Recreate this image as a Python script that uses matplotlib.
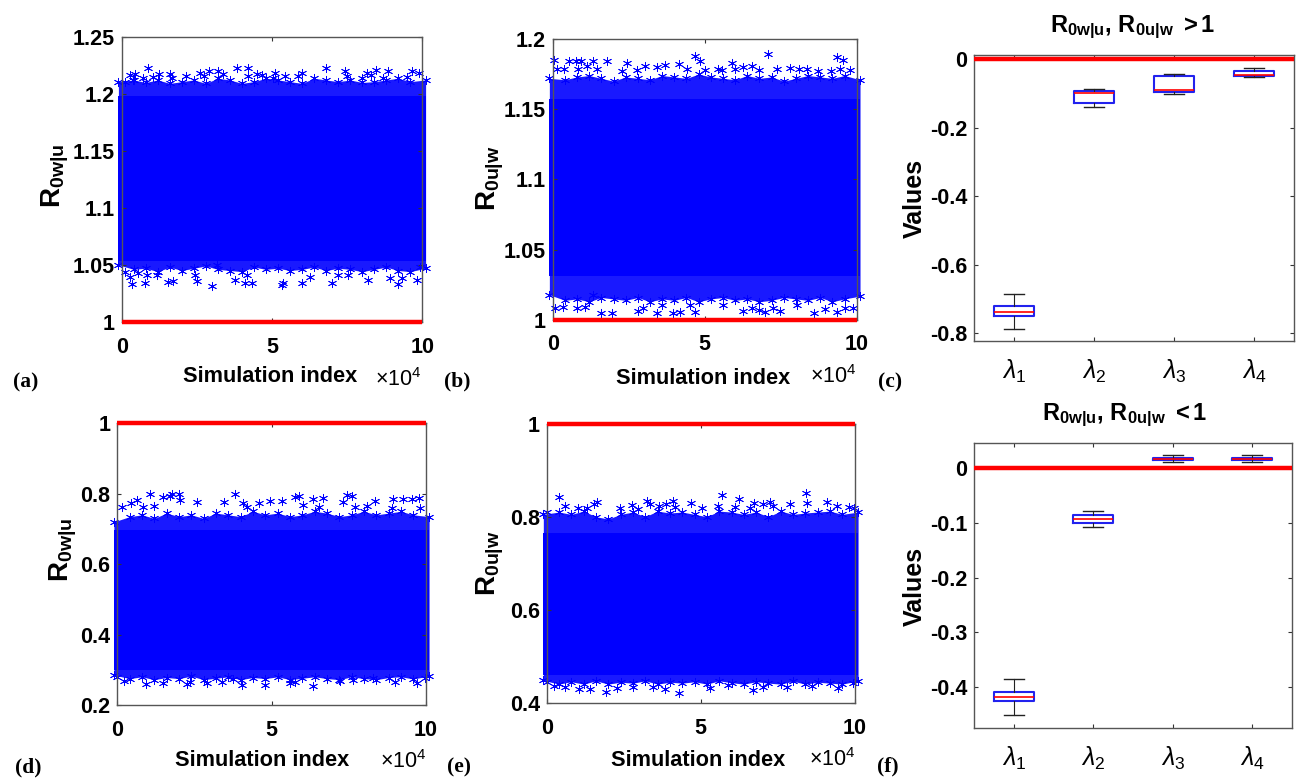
import matplotlib
matplotlib.use('Agg')
import matplotlib.pyplot as plt

plt.rcParams['font.family'] = ['Liberation Sans', 'DejaVu Sans']
plt.rcParams['mathtext.fontset'] = 'custom'
plt.rcParams['mathtext.rm'] = 'Liberation Sans'
plt.rcParams['mathtext.it'] = 'Liberation Sans:italic'
plt.rcParams['mathtext.bf'] = 'Liberation Sans:bold'

W, H = 1304, 779

# simulation index range covered by the dense scatter (x 10^4)
index_range = [-0.11, 10.11]
threshold_r = 1
threshold_lambda = 0

# where the edge of the dense cloud was read, same x for all panels
edge_x = [-.11, .4, .8, 1.2, 1.6, 2.0, 2.4, 2.8, 3.2, 3.6, 4.0, 4.4, 4.8, 5.2, 5.6, 6.0, 6.4, 6.8, 7.2, 7.6, 8.0, 8.4, 8.8, 9.2, 9.6, 10.11]

# panel a: dense core, cloud edges, and the separate stars outside them
a_core = [1.053, 1.198]
a_edge_hi = [1.211, 1.2125, 1.2103, 1.2125, 1.2095, 1.211, 1.2125, 1.2095, 1.214, 1.2125, 1.2095, 1.211, 1.214, 1.2125, 1.211, 1.2095, 1.214, 1.2125, 1.211, 1.2125, 1.2103, 1.211, 1.2125, 1.214, 1.211, 1.2125]
a_edge_lo = [1.05, 1.046, 1.047, 1.044, 1.048, 1.045, 1.047, 1.049, 1.046, 1.045, 1.044, 1.048, 1.046, 1.047, 1.045, 1.046, 1.048, 1.045, 1.047, 1.046, 1.044, 1.046, 1.048, 1.045, 1.044, 1.047]
a_top_x = [.11, .28, .44, .39, .72, .89, 1.05, 1.25, 1.61, 1.66, 2.14, 2.61, 2.74, 2.92, 3.22, 3.38, 3.85, 4.21, 4.21, 4.49, 4.66, 5.10, 5.04, 5.43, 5.99, 5.88, 6.80, 7.43, 7.48, 7.98, 8.15, 8.46, 8.31, 8.87, 8.70, 9.50, 9.65, 9.90]
a_top_y = [1.211, 1.217, 1.218, 1.2125, 1.214, 1.223, 1.215, 1.218, 1.218, 1.214, 1.216, 1.219, 1.216, 1.220, 1.220, 1.218, 1.223, 1.223, 1.216, 1.218, 1.217, 1.219, 1.214, 1.216, 1.219, 1.216, 1.223, 1.220, 1.216, 1.214, 1.219, 1.221, 1.217, 1.2207, 1.214, 1.215, 1.220, 1.219]
a_bot_x = [.11, .33, .28, .55, .77, .83, 1.16, 1.55, 1.70, 2.49, 2.44, 3.02, 3.16, 3.77, 4.10, 4.32, 4.16, 5.32, 5.38, 5.99, 6.26, 7.00, 7.54, 7.20, 8.20, 8.92, 9.20, 9.31, 9.84, 9.94]
a_bot_y = [1.044, 1.033, 1.0396, 1.0425, 1.0337, 1.041, 1.041, 1.035, 1.036, 1.036, 1.041, 1.031, 1.05, 1.0366, 1.0337, 1.034, 1.041, 1.032, 1.0337, 1.034, 1.0396, 1.0337, 1.041, 1.041, 1.037, 1.038, 1.033, 1.038, 1.0366, 1.048]

# panel b
b_core = [1.031, 1.157]
b_edge_hi = [1.172, 1.171, 1.173, 1.174, 1.172, 1.170, 1.173, 1.172, 1.171, 1.174, 1.173, 1.172, 1.175, 1.173, 1.172, 1.171, 1.174, 1.172, 1.173, 1.170, 1.172, 1.174, 1.173, 1.172, 1.174, 1.171]
b_edge_lo = [1.018, 1.014, 1.015, 1.013, 1.016, 1.015, 1.014, 1.016, 1.013, 1.015, 1.014, 1.016, 1.013, 1.015, 1.016, 1.014, 1.015, 1.013, 1.014, 1.016, 1.015, 1.014, 1.016, 1.013, 1.015, 1.017]
b_top_x = [.04, .13, .37, .52, .77, .92, .84, 1.12, 1.32, 1.45, 1.78, 2.27, 2.45, 2.76, 3.04, 3.44, 3.70, 4.17, 4.41, 4.68, 4.85, 5.01, 5.45, 5.56, 5.89, 6.00, 6.27, 6.55, 6.77, 7.09, 7.37, 7.79, 8.11, 8.38, 8.74, 9.14, 9.34, 9.54, 9.45, 9.78]
b_top_y = [1.185, 1.179, 1.179, 1.184, 1.184, 1.184, 1.179, 1.181, 1.1846, 1.179, 1.184, 1.177, 1.183, 1.178, 1.181, 1.180, 1.1815, 1.182, 1.179, 1.188, 1.1846, 1.178, 1.179, 1.178, 1.183, 1.179, 1.180, 1.181, 1.178, 1.1896, 1.179, 1.1796, 1.179, 1.179, 1.177, 1.1775, 1.187, 1.185, 1.179, 1.178]
b_bot_x = [.08, .35, .79, 1.06, 1.59, 1.94, 1.34, 2.79, 2.98, 3.42, 3.59, 3.97, 4.19, 4.68, 4.52, 5.61, 6.27, 6.55, 6.77, 6.98, 7.48, 7.26, 8.03, 8.60, 8.96, 9.36, 9.62, 9.89]
b_bot_y = [1.0083, 1.0095, 1.0083, 1.009, 1.0047, 1.0052, 1.0178, 1.0066, 1.0083, 1.0052, 1.0107, 1.0047, 1.0059, 1.0055, 1.0107, 1.0107, 1.0066, 1.0083, 1.007, 1.0059, 1.0066, 1.0083, 1.0107, 1.0052, 1.0076, 1.0057, 1.0083, 1.0083]

# panel d
d_core = [.2994, .697]
d_edge_hi = [.72, .735, .74, .73, .745, .735, .74, .73, .745, .74, .735, .75, .74, .745, .735, .74, .75, .745, .735, .74, .75, .74, .745, .75, .74, .735]
d_edge_lo = [.285, .275, .28, .272, .278, .275, .282, .272, .276, .28, .272, .278, .275, .28, .272, .276, .28, .275, .272, .28, .275, .272, .278, .28, .274, .282]
d_top_x = [.14, .46, .63, .84, 1.06, 1.19, 1.49, 1.71, 1.76, 2.01, 2.03, 2.59, 3.46, 3.82, 4.06, 4.22, 4.61, 4.95, 5.33, 5.76, 5.90, 6.03, 6.36, 6.68, 6.55, 7.31, 7.44, 7.60, 7.71, 8.36, 8.09, 8.95, 9.28, 9.55, 9.79, 8.90, 9.82]
d_top_y = [.7616, .773, .782, .7616, .799, .765, .792, .794, .7985, .7985, .782, .776, .7777, .799, .773, .7616, .773, .780, .780, .792, .794, .768, .786, .789, .7634, .7777, .7956, .794, .7634, .780, .765, .784, .784, .785, .789, .7587, .7587]
d_bot_x = [0.0, .22, .93, 1.49, 2.25, 2.36, 2.90, 3.38, 3.76, 4.03, 4.79, 5.6, 5.76, 6.34, 7.22, 7.65, 9.01, 9.71, 9.98, 8.30]
d_bot_y = [.2805, .269, .2597, .2634, .2597, .2663, .2616, .2663, .273, .2568, .2568, .2616, .2663, .254, .269, .271, .2663, .2634, .2758, .2758]

# panel e
e_core = [.4595, .764]
e_edge_hi = [.805, .81, .805, .812, .80, .795, .805, .81, .80, .812, .808, .81, .805, .80, .812, .81, .805, .81, .80, .812, .805, .808, .81, .812, .805, .81]
e_edge_lo = [.448, .44, .445, .44, .447, .44, .444, .442, .447, .44, .444, .442, .445, .44, .447, .443, .44, .445, .442, .44, .446, .44, .444, .442, .44, .447]
e_top_x = [0.0, .41, .60, 1.03, 1.30, 1.54, 1.62, 2.38, 2.76, 2.98, 3.25, 3.35, 3.63, 3.87, 4.09, 4.17, 4.68, 5.03, 5.57, 5.68, 6.11, 6.24, 6.60, 6.74, 7.01, 7.25, 7.36, 7.90, 8.42, 8.44, 9.09, 9.42, 9.83, 9.99]
e_top_y = [.8107, .8416, .823, .818, .818, .827, .832, .818, .825, .816, .8344, .827, .823, .827, .8344, .820, .830, .818, .823, .8466, .820, .838, .818, .830, .827, .832, .823, .827, .8516, .8287, .832, .823, .820, .818]
e_bot_x = [0.0, .24, .60, 1.06, 1.39, 1.93, 2.27, 2.81, 3.46, 3.84, 4.31, 5.30, 5.90, 6.71, 7.01, 7.79, 8.60, 9.47, 9.96]
e_bot_y = [.445, .436, .433, .4287, .4287, .4237, .431, .4344, .433, .4287, .4215, .431, .438, .427, .433, .4344, .436, .431, .443]

# boxplots, one list per statistic for lambda 1..4
lambda_labels = [r'$\lambda_1$', r'$\lambda_2$', r'$\lambda_3$', r'$\lambda_4$']
c_hi = [-.687, -.0886, -.043, -.027]
c_q3 = [-.722, -.094, -.049, -.036]
c_med = [-.737, -.098, -.0905, -.046]
c_q1 = [-.751, -.128, -.095, -.051]
c_lo = [-.787, -.141, -.101, -.0535]
f_hi = [-.385, -.079, .0238, .0238]
f_q3 = [-.409, -.0855, .019, .019]
f_med = [-.418, -.092, .0171, .0171]
f_q1 = [-.427, -.0995, .0147, .0147]
f_lo = [-.452, -.108, .011, .011]

x_ticks = [0, 5, 10]
x_tick_labels = ['0', '5', '10']


def make_axes(fig, left, right, top, bottom):
    ax = fig.add_axes([left / W, 1 - bottom / H, (right - left) / W, (bottom - top) / H])
    for s in ax.spines.values():
        s.set_color('#555555')
        s.set_linewidth(1.0)
    ax.tick_params(direction='in', top=True, right=True, length=3, width=0.8, color='#333333')
    return ax


def put_text(fig, x, y, s, **kw):
    kw.setdefault('ha', 'center')
    kw.setdefault('va', 'center')
    fig.text(x / W, 1 - y / H, s, **kw)


def scatter_panel(fig, box, ylim, yticks, yticklabels, core, edge_lo, edge_hi, top_x, top_y, bot_x, bot_y, pad_x):
    ax = make_axes(fig, *box)
    # the 10^5 stars merge into a solid cloud, so it is drawn as a band
    ax.fill_between(edge_x, edge_lo, edge_hi, color='#0000ff', alpha=0.9, lw=0, clip_on=False)
    ax.fill_between(index_range, core[0], core[1], color='#0000ff', lw=0, clip_on=False)
    for xs, ys in [(top_x, top_y), (bot_x, bot_y), (edge_x, edge_hi), (edge_x, edge_lo)]:
        ax.plot(xs, ys, ls='none', marker=(6, 2, 0), ms=6.5, mew=0.6, color='#0000ff', clip_on=False)
    ax.plot([0, 10], [threshold_r, threshold_r], color='#ff0000', lw=3.2, solid_capstyle='butt', clip_on=False, zorder=5)
    ax.set_xlim(0, 10)
    ax.set_ylim(*ylim)
    ax.set_xticks(x_ticks)
    ax.set_xticklabels(x_tick_labels, fontsize=15.5, fontweight='bold')
    ax.set_yticks(yticks)
    ax.set_yticklabels(yticklabels, fontsize=15.5, fontweight='bold')
    ax.tick_params(axis='x', pad=pad_x)
    ax.tick_params(axis='y', pad=5)
    return ax


def box_panel(fig, box, ylim, yticks, yticklabels, lo, q1, med, q3, hi):
    ax = make_axes(fig, *box)
    stats = []
    for i in range(len(med)):
        stats.append({'whislo': lo[i], 'q1': q1[i], 'med': med[i], 'q3': q3[i], 'whishi': hi[i], 'fliers': []})
    ax.bxp(stats, positions=[1, 2, 3, 4], widths=0.5, capwidths=0.25, showfliers=False,
           boxprops={'color': '#2222ee', 'linewidth': 1.5},
           medianprops={'color': '#ff0000', 'linewidth': 1.2},
           whiskerprops={'color': '#222222', 'linewidth': 0.8, 'linestyle': '-'},
           capprops={'color': '#222222', 'linewidth': 1.0})
    ax.axhline(threshold_lambda, color='#ff0000', lw=3.2, zorder=5)
    ax.set_xlim(0.5, 4.5)
    ax.set_ylim(*ylim)
    ax.set_xticks([1, 2, 3, 4])
    ax.set_xticklabels(lambda_labels, fontsize=18)
    ax.set_yticks(yticks)
    ax.set_yticklabels(yticklabels, fontsize=15.5, fontweight='bold')
    ax.tick_params(axis='x', pad=12)
    ax.tick_params(axis='y', pad=5)
    return ax


fig = plt.figure(figsize=(W / 100, H / 100), dpi=100)

scatter_panel(fig, (121.7, 422.3, 37.3, 321.7), (1, 1.25), [1, 1.05, 1.1, 1.15, 1.2, 1.25],
              ['1', '1.05', '1.1', '1.15', '1.2', '1.25'], a_core, a_edge_lo, a_edge_hi, a_top_x, a_top_y, a_bot_x, a_bot_y, 11)
scatter_panel(fig, (552.7, 856.7, 39, 320), (1, 1.2), [1, 1.05, 1.1, 1.15, 1.2],
              ['1', '1.05', '1.1', '1.15', '1.2'], b_core, b_edge_lo, b_edge_hi, b_top_x, b_top_y, b_bot_x, b_bot_y, 10)
scatter_panel(fig, (117.3, 425.7, 423.3, 705), (.2, 1), [.2, .4, .6, .8, 1],
              ['0.2', '0.4', '0.6', '0.8', '1'], d_core, d_edge_lo, d_edge_hi, d_top_x, d_top_y, d_bot_x, d_bot_y, 11)
scatter_panel(fig, (546.7, 854.7, 423.7, 702.7), (.4, 1), [.4, .6, .8, 1],
              ['0.4', '0.6', '0.8', '1'], e_core, e_edge_lo, e_edge_hi, e_top_x, e_top_y, e_bot_x, e_bot_y, 11)
box_panel(fig, (974.3, 1294.3, 55, 341), (-.823, .0117), [-.8, -.6, -.4, -.2, 0],
          ['-0.8', '-0.6', '-0.4', '-0.2', '0'], c_lo, c_q1, c_med, c_q3, c_hi)
box_panel(fig, (974.3, 1291.7, 442.7, 727.7), (-.475, .047), [-.4, -.3, -.2, -.1, 0],
          ['-0.4', '-0.3', '-0.2', '-0.1', '0'], f_lo, f_q1, f_med, f_q3, f_hi)

r0wu = r'$\mathbf{R_{0w|u}}$'
r0uw = r'$\mathbf{R_{0u|w}}$'
for x, y, s in [(55, 176, r0wu), (490, 178, r0uw), (63, 550, r0wu), (490, 563, r0uw)]:
    put_text(fig, x, y, s, rotation=90, fontsize=20)
for x, y in [(915, 198), (915, 586)]:
    put_text(fig, x, y, 'Values', rotation=90, fontsize=18, fontweight='bold')
for x, y in [(270, 376), (703, 378), (262, 760), (698, 760)]:
    put_text(fig, x, y, 'Simulation index', fontsize=15.7, fontweight='bold')
for x, y in [(398, 380), (833, 377), (403, 762), (832, 760)]:
    put_text(fig, x, y, r'$\times10^4$', fontsize=15.5)
put_text(fig, 1133, 27, r0wu + r"$\mathbf{,}$ " + r0uw + r' $\mathbf{>1}$', fontsize=17)
put_text(fig, 1125, 415, r0wu + r"$\mathbf{,}$ " + r0uw + r' $\mathbf{<1}$', fontsize=17)
for x, y, s in [(26, 382, '(a)'), (457, 381, '(b)'), (890, 382, '(c)'), (28, 767, '(d)'), (459, 767, '(e)'), (888, 766, '(f)')]:
    put_text(fig, x, y, s, fontsize=15.5, fontweight='bold', family=['Liberation Serif'])

fig.savefig('out.png', dpi=100)
